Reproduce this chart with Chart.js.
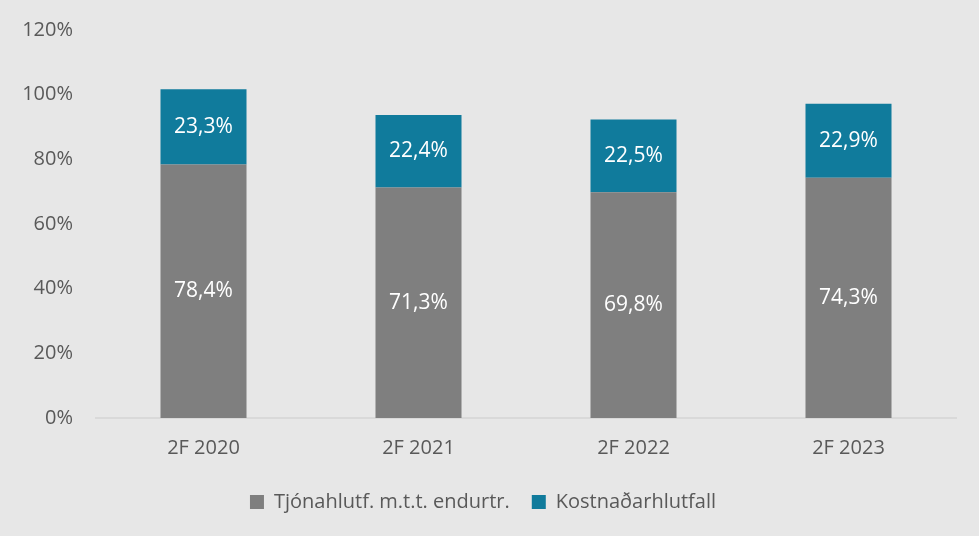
<!DOCTYPE html>
<html>
<head>
<meta charset="utf-8">
<script src="https://cdn.jsdelivr.net/npm/chart.js@4"></script>
<style>
    html, body { margin: 0; padding: 0; background: #e7e7e7; }
    #wrap { width: 979px; height: 536px; }
</style>
</head>
<body>
<div id="wrap"><canvas id="barChart"></canvas></div>
<script>
// --- data ---
const categories = ['2F 2020', '2F 2021', '2F 2022', '2F 2023'];
const claimsRatio = [78.4, 71.3, 69.8, 74.3];   // Tjónahlutf. m.t.t. endurtr.
const costRatio = [23.3, 22.4, 22.5, 22.9];     // Kostnaðarhlutfall
const seriesNames = ['Tjónahlutf. m.t.t. endurtr.', 'Kostnaðarhlutfall'];
const yTicks = [0, 20, 40, 60, 80, 100, 120];

const FONT = '"Open Sans", "Noto Sans", sans-serif';
const TEXT = '#595959';

// white value labels in the middle of each bar segment
const barLabels = {
    id: 'barLabels',
    afterDatasetsDraw(chart) {
        const c = chart.ctx;
        c.save();
        c.fillStyle = '#ffffff';
        c.font = '21px ' + FONT;
        c.textAlign = 'center';
        c.textBaseline = 'middle';
        chart.data.datasets.forEach((ds, i) => {
            chart.getDatasetMeta(i).data.forEach((bar, j) => {
                const mid = (bar.y + bar.base) / 2;
                c.fillText(ds.data[j].toFixed(1).replace('.', ',') + '%', bar.x, mid);
            });
        });
        c.restore();
    }
};

new Chart(document.getElementById('barChart'), {
    type: 'bar',
    data: {
        labels: categories,
        datasets: [
            { label: seriesNames[0], data: claimsRatio, backgroundColor: '#7f7f7f' },
            { label: seriesNames[1], data: costRatio, backgroundColor: '#107b9c' }
        ]
    },
    options: {
        responsive: true,
        maintainAspectRatio: false,
        animation: false,
        layout: { padding: { top: 30, left: 10, right: 23, bottom: 14 } },
        datasets: { bar: { categoryPercentage: 1, barPercentage: 0.4 } },
        plugins: {
            tooltip: { enabled: false },
            legend: {
                position: 'bottom',
                labels: {
                    color: TEXT,
                    font: { family: FONT, size: 20 },
                    boxWidth: 14,
                    boxHeight: 14,
                    padding: 22
                }
            }
        },
        scales: {
            x: {
                stacked: true,
                grid: { display: false },
                border: { color: '#d9d9d9', width: 2 },
                ticks: { color: TEXT, font: { family: FONT, size: 20 }, padding: 10 }
            },
            y: {
                stacked: true,
                min: 0,
                max: 120,
                afterBuildTicks: (scale) => { scale.ticks = yTicks.map(v => ({ value: v })); },
                afterFit: (scale) => { scale.width = 86; },
                grid: { display: false },
                border: { display: false },
                ticks: {
                    color: TEXT,
                    font: { family: FONT, size: 20 },
                    padding: 15,
                    callback: (v) => v + '%'
                }
            }
        }
    },
    plugins: [barLabels]
});
</script>
</body>
</html>
